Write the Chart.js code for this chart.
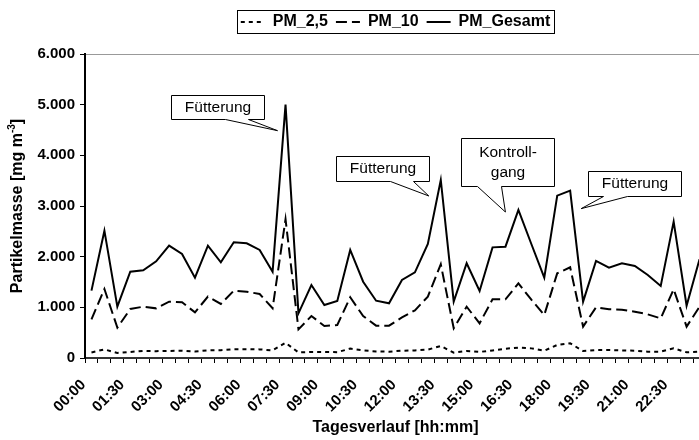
<!DOCTYPE html>
<html>
<head>
<meta charset="utf-8">
<script src="https://cdn.jsdelivr.net/npm/chart.js@4.4.1/dist/chart.umd.min.js"></script>
<style>
  html, body { margin: 0; padding: 0; overflow: hidden; background: #fff; }
  #wrap { width: 706px; height: 440px; }
</style>
</head>
<body>
<div id="wrap"><canvas id="myChart"></canvas></div>
<script>
// time of day, every 30 minutes
const times = [
  '00:00', '00:30', '01:00', '01:30', '02:00', '02:30', '03:00', '03:30',
  '04:00', '04:30', '05:00', '05:30', '06:00', '06:30', '07:00', '07:30',
  '08:00', '08:30', '09:00', '09:30', '10:00', '10:30', '11:00', '11:30',
  '12:00', '12:30', '13:00', '13:30', '14:00', '14:30', '15:00', '15:30',
  '16:00', '16:30', '17:00', '17:30', '18:00', '18:30', '19:00', '19:30',
  '20:00', '20:30', '21:00', '21:30', '22:00', '22:30', '23:00', '23:30',
];

const pm25 = [
  110, 170, 100, 120, 140, 135, 140, 145, 130, 150, 155, 175,
  175, 170, 150, 300, 110, 120, 120, 115, 185, 150, 130, 125,
  144, 150, 165, 237, 105, 138, 120, 150, 184, 204, 190, 144,
  257, 290, 138, 158, 158, 150, 145, 125, 125, 191, 112, 125,
];

const pm10 = [
  764, 1362, 599, 967, 1013, 980, 1112, 1099, 901, 1211, 1066, 1329,
  1309, 1263, 981, 2738, 566, 829, 632, 651, 1198, 829, 638, 638,
  800, 940, 1211, 1849, 586, 1013, 684, 1158, 1158, 1474, 1150, 849,
  1671, 1790, 619, 1000, 961, 954, 914, 862, 783, 1355, 619, 1013,
];

const pmGesamt = [
  1330, 2513, 1013, 1704, 1731, 1908, 2217, 2053, 1585, 2217, 1888, 2283,
  2263, 2132, 1704, 5000, 882, 1441, 1046, 1125, 2132, 1506, 1131, 1079,
  1540, 1691, 2250, 3514, 1112, 1869, 1323, 2184, 2197, 2921, 2250, 1585,
  3204, 3303, 1112, 1915, 1783, 1869, 1816, 1638, 1421, 2691, 1033, 1950,
];

const yTicks = [0, 1000, 2000, 3000, 4000, 5000, 6000];

// speech bubbles: anchored at a data point of PM_Gesamt, offsets in px
const callouts = [
  { lines: ['Fütterung'], at: 15, tip: [-8, 26], box: [-115, -10, 93, 24], base: [54, 77] },
  { lines: ['Fütterung'], at: 27, tip: [-12, 16], box: [-105, -24, 93, 25], base: [54, 77] },
  { lines: ['Kontroll-', 'gang'], at: 33, tip: [-13, 2], box: [-57, -72, 93, 48], base: [16, 40] },
  { lines: ['Fütterung'], at: 37, tip: [11, 18], box: [18, -20, 93, 25], base: [15, 39] },
];

const FONT = 'Liberation Sans, Arial, sans-serif';

function fmt(v) {
  return String(v).replace(/\B(?=(\d{3})+(?!\d))/g, '.');
}

// extra space under the legend + frame around it
const legendFrame = {
  id: 'legendFrame',
  beforeUpdate(chart) {
    const lg = chart.legend;
    if (lg && !lg._patched) {
      const fit = lg.fit;
      lg.fit = function () {
        fit.call(this);
        this.height += 14;
      };
      lg._patched = true;
    }
  },
  afterDraw(chart) {
    const boxes = chart.legend.legendHitBoxes;
    if (!boxes || !boxes.length) return;
    let l = Infinity, r = -Infinity, t = Infinity, b = -Infinity;
    boxes.forEach((h) => {
      l = Math.min(l, h.left);
      r = Math.max(r, h.left + h.width);
      t = Math.min(t, h.top);
      b = Math.max(b, h.top + h.height);
    });
    const ctx = chart.ctx;
    ctx.save();
    ctx.strokeStyle = '#000';
    ctx.lineWidth = 1;
    ctx.strokeRect(Math.round(l - 4) + 0.5, Math.round(t - 4) + 0.5, Math.round(r - l + 8), Math.round(b - t + 7));
    ctx.restore();
  },
};

// y axis title with superscript
const yTitle = {
  id: 'yTitle',
  afterDraw(chart) {
    const ctx = chart.ctx;
    const area = chart.chartArea;
    const main = 'Partikelmasse [mg m';
    const sup = '-3';
    const end = ']';
    ctx.save();
    ctx.fillStyle = '#000';
    ctx.textBaseline = 'middle';
    ctx.font = 'bold 16px ' + FONT;
    const w1 = ctx.measureText(main).width;
    const w3 = ctx.measureText(end).width;
    ctx.font = 'bold 10px ' + FONT;
    const w2 = ctx.measureText(sup).width;
    const total = w1 + w2 + w3;
    ctx.translate(18, (area.top + area.bottom) / 2);
    ctx.rotate(-Math.PI / 2);
    let x = -total / 2;
    ctx.font = 'bold 16px ' + FONT;
    ctx.fillText(main, x, 0);
    x += w1;
    ctx.font = 'bold 10px ' + FONT;
    ctx.fillText(sup, x, -6);
    x += w2;
    ctx.font = 'bold 16px ' + FONT;
    ctx.fillText(end, x, 0);
    ctx.restore();
  },
};

// callout boxes
const bubbles = {
  id: 'bubbles',
  afterDatasetsDraw(chart) {
    const ctx = chart.ctx;
    const xs = chart.scales.x;
    const ys = chart.scales.y;
    ctx.save();
    callouts.forEach((c) => {
      const px = xs.getPixelForValue(c.at);
      const py = ys.getPixelForValue(pmGesamt[c.at]);
      const tx = px + c.tip[0];
      const ty = py + c.tip[1];
      const bx = Math.round(px + c.box[0]) + 0.5;
      const by = Math.round(py + c.box[1]) + 0.5;
      const bw = c.box[2];
      const bh = c.box[3];
      ctx.beginPath();
      ctx.moveTo(bx, by);
      ctx.lineTo(bx + bw, by);
      ctx.lineTo(bx + bw, by + bh);
      ctx.lineTo(bx + c.base[1], by + bh);
      ctx.lineTo(tx, ty);
      ctx.lineTo(bx + c.base[0], by + bh);
      ctx.lineTo(bx, by + bh);
      ctx.closePath();
      ctx.fillStyle = '#fff';
      ctx.fill();
      ctx.strokeStyle = '#000';
      ctx.lineWidth = 1;
      ctx.stroke();
      ctx.fillStyle = '#000';
      ctx.font = '15.5px ' + FONT;
      ctx.textAlign = 'center';
      ctx.textBaseline = 'middle';
      const lh = 20;
      const cy = by + bh / 2 - (c.lines.length - 1) * lh / 2;
      c.lines.forEach((s, i) => ctx.fillText(s, bx + bw / 2, cy + i * lh));
    });
    ctx.restore();
  },
};

const canvas = document.getElementById('myChart');

const chart = new Chart(canvas, {
  type: 'line',
  data: {
    labels: times,
    datasets: [
      {
        label: 'PM_2,5',
        data: pm25,
        borderColor: '#000',
        borderWidth: 2,
        borderDash: [4, 4],
      },
      {
        label: 'PM_10',
        data: pm10,
        borderColor: '#000',
        borderWidth: 2,
        borderDash: [11, 5],
      },
      {
        label: 'PM_Gesamt',
        data: pmGesamt,
        borderColor: '#000',
        borderWidth: 2,
      },
    ],
  },
  options: {
    responsive: true,
    maintainAspectRatio: false,
    animation: false,
    layout: {
      padding: { top: 6, right: 0, left: 0, bottom: 0 },
    },
    elements: {
      point: { radius: 0 },
      line: { tension: 0, fill: false },
    },
    plugins: {
      tooltip: { enabled: false },
      legend: {
        position: 'top',
        fullSize: false,
        labels: {
          usePointStyle: true,
          pointStyle: 'line',
          pointStyleWidth: 24,
          color: '#000',
          padding: 8,
          font: { family: FONT, size: 16, weight: 'bold' },
          generateLabels: (chart) => {
            const items = Chart.defaults.plugins.legend.labels.generateLabels(chart);
            items.forEach((it) => {
              it.lineDash = chart.data.datasets[it.datasetIndex].borderDash || [];
              it.lineWidth = 2;
              it.strokeStyle = '#000';
            });
            return items;
          },
        },
      },
    },
    scales: {
      x: {
        offset: true,
        grid: {
          offset: true,
          color: 'rgba(0,0,0,0)',
          tickColor: '#000',
          tickLength: 5,
        },
        border: { color: '#333', width: 2 },
        ticks: {
          autoSkip: false,
          maxRotation: 45,
          minRotation: 45,
          labelOffset: -8,
          padding: 13,
          color: '#000',
          font: { family: FONT, size: 15, weight: 'bold' },
          callback: (v, i) => (i % 3 === 0 ? times[i] : ''),
        },
        title: {
          display: true,
          text: 'Tagesverlauf [hh:mm]',
          color: '#000',
          font: { family: FONT, size: 16, weight: 'bold' },
          padding: { top: 4, bottom: 3 },
        },
        afterFit: (scale) => {
          scale.height = 82;
          scale.paddingLeft = 0;
          scale.paddingRight = 0;
        },
      },
      y: {
        min: yTicks[0],
        max: yTicks[yTicks.length - 1],
        afterBuildTicks: (scale) => { scale.ticks = yTicks.map((v) => ({ value: v })); },
        grid: {
          color: (c) => (c.tick && c.tick.value === 6000 ? '#999' : 'rgba(0,0,0,0)'),
          tickColor: '#000',
          tickLength: 5,
        },
        border: { color: '#000', width: 2 },
        ticks: {
          padding: 5,
          color: '#000',
          font: { family: FONT, size: 15, weight: 'bold' },
          callback: (v) => fmt(v),
        },
        afterFit: (scale) => { scale.width = 85; },
      },
    },
  },
  plugins: [legendFrame, yTitle, bubbles],
});
</script>
</body>
</html>
